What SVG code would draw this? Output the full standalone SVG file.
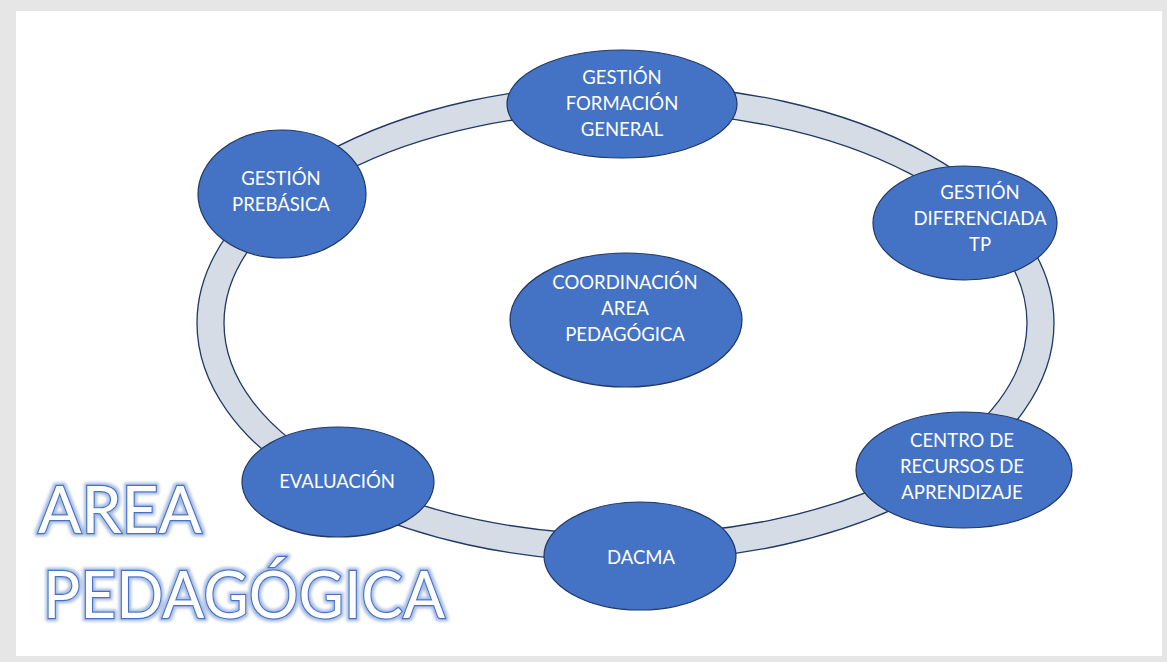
<svg xmlns="http://www.w3.org/2000/svg" width="1167" height="662" viewBox="0 0 1167 662">
<defs>
<style>
.node{fill:#4472c4;stroke:#203864;stroke-width:1.2}
.lbl{font-family:Lato,"Open Sans","Liberation Sans",sans-serif;font-size:18.5px;fill:#ffffff;text-anchor:middle}
.title{font-family:Lato,"Open Sans","Liberation Sans",sans-serif;font-size:66px;fill:#ffffff;stroke:#4472c4;stroke-width:2.4;paint-order:stroke}
</style>
<filter id="glow" x="-10%" y="-20%" width="120%" height="140%">
<feMorphology in="SourceAlpha" operator="dilate" radius="1.5" result="d"/>
<feGaussianBlur in="d" stdDeviation="1.5" result="b"/>
<feFlood flood-color="#8faadc" flood-opacity="0.8"/>
<feComposite in2="b" operator="in" result="g"/>
<feMerge><feMergeNode in="g"/><feMergeNode in="SourceGraphic"/></feMerge>
</filter>
</defs>
<rect x="0" y="0" width="1167" height="662" fill="#e6e6e6"/>
<rect x="16" y="11" width="1146" height="645" fill="#ffffff"/>
<g id="connectors">
<path d="M197,323 a428.5,238.5 0 1,0 857,0 a428.5,238.5 0 1,0 -857,0 Z M224,323 a401.5,211.5 0 1,0 803,0 a401.5,211.5 0 1,0 -803,0 Z" fill="#d6dce5" fill-rule="evenodd" stroke="#1f3864" stroke-width="1.3"/>
</g>
<g id="node-prebasica">
<ellipse class="node" cx="282" cy="194" rx="84" ry="64"/>
<text class="lbl" x="281" y="185">GESTIÓN</text>
<text class="lbl" x="281" y="211">PREBÁSICA</text>
</g>
<g id="node-formacion-general">
<ellipse class="node" cx="622" cy="104" rx="115" ry="54"/>
<text class="lbl" x="622" y="84">GESTIÓN</text>
<text class="lbl" x="622" y="110">FORMACIÓN</text>
<text class="lbl" x="622" y="136">GENERAL</text>
</g>
<g id="node-diferenciada">
<ellipse class="node" cx="965" cy="223" rx="92" ry="57"/>
<text class="lbl" x="980" y="199">GESTIÓN</text>
<text class="lbl" x="980" y="225">DIFERENCIADA</text>
<text class="lbl" x="980" y="251">TP</text>
</g>
<g id="node-coordinacion">
<ellipse class="node" cx="626" cy="320" rx="116" ry="67"/>
<text class="lbl" x="625" y="289">COORDINACIÓN</text>
<text class="lbl" x="625" y="315">AREA</text>
<text class="lbl" x="625" y="341">PEDAGÓGICA</text>
</g>
<g id="node-cra">
<ellipse class="node" cx="964" cy="470" rx="108" ry="58"/>
<text class="lbl" x="962" y="447">CENTRO DE</text>
<text class="lbl" x="962" y="473">RECURSOS DE</text>
<text class="lbl" x="962" y="499">APRENDIZAJE</text>
</g>
<g id="node-dacma">
<ellipse class="node" cx="640" cy="556" rx="96" ry="54"/>
<text class="lbl" x="641" y="564">DACMA</text>
</g>
<g id="node-evaluacion">
<ellipse class="node" cx="338" cy="482" rx="96" ry="55"/>
<text class="lbl" x="337" y="488">EVALUACIÓN</text>
</g>
<g id="title" filter="url(#glow)">
<text class="title" x="38" y="533" textLength="164" lengthAdjust="spacingAndGlyphs">AREA</text>
<text class="title" x="43" y="618" textLength="402" lengthAdjust="spacingAndGlyphs">PEDAGÓGICA</text>
</g>
</svg>
